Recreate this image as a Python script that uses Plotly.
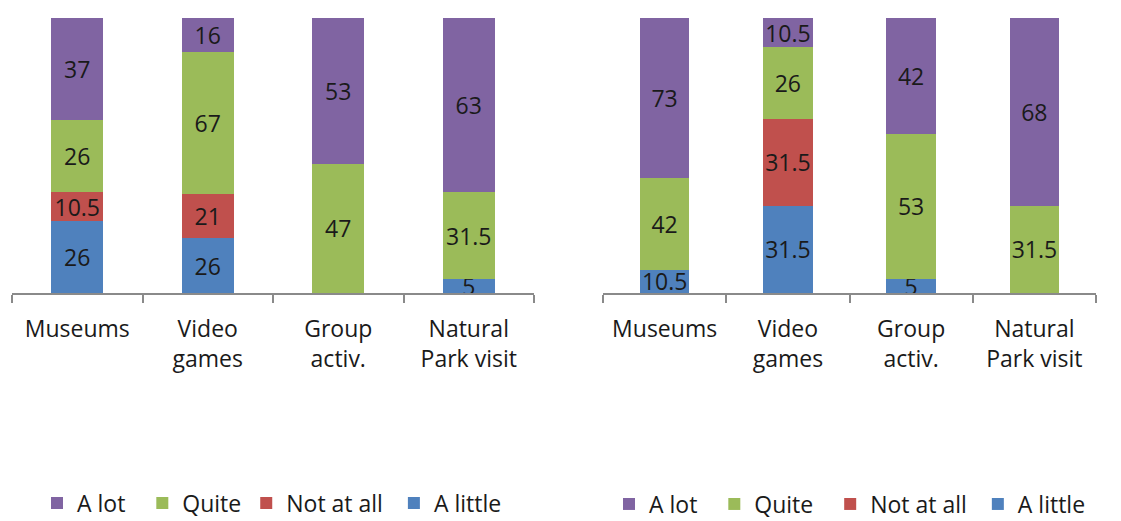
import plotly.graph_objects as go

categories = ["Museums", "Video<br>games", "Group<br>activ.", "Natural<br>Park visit"]
series_names = ["A little", "Not at all", "Quite", "A lot"]
colors = ["#4F81BD", "#C0504D", "#9BBB59", "#8064A2"]

left_a_little = [26, 26, None, 5]
left_not_at_all = [10.5, 21, None, None]
left_quite = [26, 67, 47, 31.5]
left_a_lot = [37, 16, 53, 63]

right_a_little = [10.5, 31.5, 5, None]
right_not_at_all = [None, 31.5, None, None]
right_quite = [42, 26, 53, 31.5]
right_a_lot = [73, 10.5, 42, 68]

left = [left_a_little, left_not_at_all, left_quite, left_a_lot]
right = [right_a_little, right_not_at_all, right_quite, right_a_lot]

# extra non-breaking spaces after legend names, to widen legend spacing
NB = "\u00a0"
left_pad = [0, 1, 0, 2]
right_pad = [0, 1, 2, 2]

FONT = "Open Sans"
TXT = "#1a1a1a"
W, H = 1121, 521


def py(y_px):
    """paper fraction for a vertical position given in pixels from top"""
    return 1 - (y_px / H)


fig = go.Figure()


def fmt(v):
    return "" if v is None else f"{v:g}"


for data, pads, xa, ya, lg in [(left, left_pad, "x", "y", "legend"),
                               (right, right_pad, "x2", "y2", "legend2")]:
    for name, col, vals, pad in zip(series_names, colors, data, pads):
        fig.add_trace(go.Bar(
            x=categories, y=vals, name=name + NB * pad,
            marker=dict(color=col, line=dict(width=0)),
            text=[fmt(v) for v in vals], texttemplate="%{text}",
            textposition="inside", insidetextanchor="middle", textangle=0,
            textfont=dict(family=FONT, size=23, color=TXT),
            width=0.4, xaxis=xa, yaxis=ya, legend=lg, hoverinfo="skip",
        ))

axis_x = dict(
    type="category", range=[-0.5, 3.5], showline=True, linecolor="#8a8a8a", linewidth=2,
    ticks="outside", tickson="boundaries", ticklen=8, tickwidth=2, tickcolor="#8a8a8a",
    tickfont=dict(family=FONT, size=23, color=TXT), showgrid=False, zeroline=False,
    ticklabelstandoff=14, fixedrange=True,
)
axis_y = dict(range=[0, 100], visible=False, showgrid=False, zeroline=False, fixedrange=True)

ydom = [py(293), py(18)]
legend_common = dict(orientation="h", traceorder="reversed", xanchor="left", yanchor="middle",
                     font=dict(family=FONT, size=23, color=TXT), bgcolor="rgba(0,0,0,0)")

fig.update_layout(
    width=W, height=H, margin=dict(l=0, r=0, t=0, b=0, autoexpand=False),
    paper_bgcolor="white", plot_bgcolor="white",
    barmode="stack", barnorm="percent",
    uniformtext=dict(minsize=23, mode="show"),
    xaxis=dict(axis_x, domain=[12 / W, 534 / W], anchor="y"),
    yaxis=dict(axis_y, domain=ydom, anchor="x"),
    xaxis2=dict(axis_x, domain=[603 / W, 1096 / W], anchor="y2"),
    yaxis2=dict(axis_y, domain=ydom, anchor="x2"),
    legend=dict(legend_common, x=37 / W, y=py(503)),
    legend2=dict(legend_common, x=609 / W, y=py(504)),
    showlegend=True,
)

fig.write_html("out.html", config={"displayModeBar": False},
               post_script="document.body.style.margin='0';")
